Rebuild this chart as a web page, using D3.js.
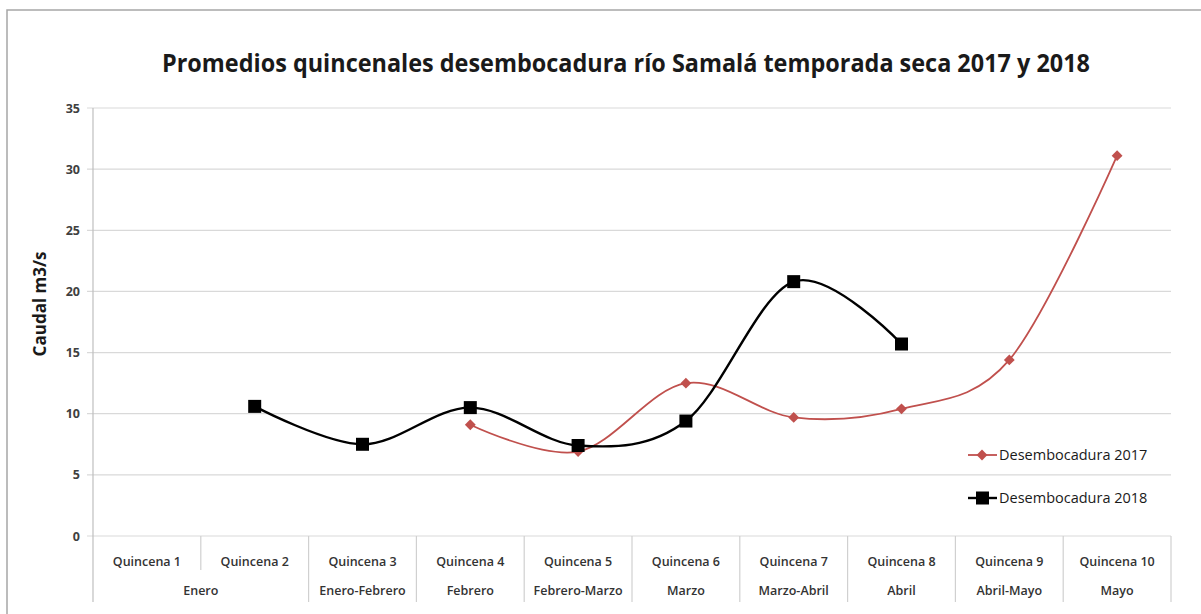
<!DOCTYPE html>
<html lang="es">
<head>
<meta charset="UTF-8">
<title>Promedios quincenales</title>
<script src="https://cdn.jsdelivr.net/npm/d3@7"></script>
<style>
    body { margin: 0; background: #fff; }
    svg text { font-family: "Open Sans", "Noto Sans", sans-serif; }
    .grid line { stroke: #d9d9d9; stroke-width: 1.2; }
    .ylab { font-size: 12.5px; font-weight: 700; fill: #404040; }
    .xlab { font-size: 12.5px; font-weight: 600; fill: #333; }
</style>
</head>
<body>
<svg width="1201" height="614"></svg>
<script>
// chart data
var quincenas = ["Quincena 1", "Quincena 2", "Quincena 3", "Quincena 4", "Quincena 5",
    "Quincena 6", "Quincena 7", "Quincena 8", "Quincena 9", "Quincena 10"];
// month groups: [label, first index, last index]
var meses = [["Enero", 0, 1], ["Enero-Febrero", 2, 2], ["Febrero", 3, 3], ["Febrero-Marzo", 4, 4],
    ["Marzo", 5, 5], ["Marzo-Abril", 6, 6], ["Abril", 7, 7], ["Abril-Mayo", 8, 8], ["Mayo", 9, 9]];
var desemb2017 = [null, null, null, 9.1, 6.9, 12.5, 9.7, 10.4, 14.4, 31.1];
var desemb2018 = [null, 10.6, 7.5, 10.5, 7.4, 9.4, 20.8, 15.7, null, null];
var yTicks = [0, 5, 10, 15, 20, 25, 30, 35];

var svg = d3.select("svg");
var plotLeft = 93, plotRight = 1171, plotTop = 108, plotBottom = 536, axisEnd = 602;

// outer frame
svg.append("rect")
    .attr("x", 7).attr("y", 10).attr("width", 1200).attr("height", 620)
    .attr("fill", "none").attr("stroke", "#a6a6a6").attr("stroke-width", 1.5);

svg.append("text")
    .attr("x", 626).attr("y", 72)
    .attr("text-anchor", "middle")
    .attr("textLength", 928).attr("lengthAdjust", "spacingAndGlyphs")
    .style("font-size", "25px").style("font-weight", 700).style("fill", "#1a1a1a")
    .text("Promedios quincenales desembocadura río Samalá temporada seca 2017 y 2018");

var x = d3.scaleBand().domain(d3.range(quincenas.length)).range([plotLeft, plotRight]);
var y = d3.scaleLinear().domain([0, 35]).range([plotBottom, plotTop]);

// gridlines
svg.append("g").attr("class", "grid")
    .selectAll("line").data(yTicks).enter().append("line")
    .attr("x1", plotLeft - 6).attr("x2", plotRight)
    .attr("y1", function (d) { return y(d); })
    .attr("y2", function (d) { return y(d); });

svg.append("g").selectAll("text").data(yTicks).enter().append("text")
    .attr("class", "ylab")
    .attr("x", plotLeft - 13).attr("y", function (d) { return y(d) + 4.5; })
    .attr("text-anchor", "end")
    .text(function (d) { return d; });

// y axis line
svg.append("line").attr("x1", plotLeft).attr("x2", plotLeft).attr("y1", plotTop).attr("y2", axisEnd)
    .attr("stroke", "#bfbfbf").attr("stroke-width", 1.2);

svg.append("text")
    .attr("transform", "translate(46,304) rotate(-90)")
    .attr("text-anchor", "middle")
    .style("font-size", "17px").style("font-weight", 700).style("fill", "#1a1a1a")
    .text("Caudal m3/s");

// category dividers
var bw = x.bandwidth();
svg.append("g").selectAll("line").data(d3.range(1, quincenas.length + 1)).enter().append("line")
    .attr("x1", function (i) { return plotLeft + i * bw; })
    .attr("x2", function (i) { return plotLeft + i * bw; })
    .attr("y1", plotBottom)
    .attr("y2", function (i) { return i === 1 ? 570 : axisEnd; })
    .attr("stroke", "#d0d0d0").attr("stroke-width", 1.2);

svg.append("g").selectAll("text").data(quincenas).enter().append("text")
    .attr("class", "xlab")
    .attr("x", function (d, i) { return x(i) + bw / 2; })
    .attr("y", 566)
    .attr("text-anchor", "middle")
    .text(function (d) { return d; });

svg.append("g").selectAll("text").data(meses).enter().append("text")
    .attr("class", "xlab")
    .attr("x", function (d) { return (x(d[1]) + x(d[2]) + bw) / 2; })
    .attr("y", 595)
    .attr("text-anchor", "middle")
    .text(function (d) { return d[0]; });

var line = d3.line()
    .defined(function (d) { return d != null; })
    .x(function (d, i) { return x(i) + bw / 2; })
    .y(function (d) { return y(d); })
    .curve(d3.curveCatmullRom.alpha(0));

var red = "#c0504d";

svg.append("path").datum(desemb2017)
    .attr("d", line).attr("fill", "none")
    .attr("stroke", red).attr("stroke-width", 1.8);

svg.append("path").datum(desemb2018)
    .attr("d", line).attr("fill", "none")
    .attr("stroke", "#000").attr("stroke-width", 2.4);

var diamond = d3.symbol().type(d3.symbolDiamond2).size(75);

svg.append("g").selectAll("path")
    .data(desemb2017.map(function (v, i) { return [v, i]; }).filter(function (d) { return d[0] != null; }))
    .enter().append("path")
    .attr("d", diamond)
    .attr("transform", function (d) { return "translate(" + (x(d[1]) + bw / 2) + "," + y(d[0]) + ")"; })
    .attr("fill", red);

svg.append("g").selectAll("rect")
    .data(desemb2018.map(function (v, i) { return [v, i]; }).filter(function (d) { return d[0] != null; }))
    .enter().append("rect")
    .attr("x", function (d) { return x(d[1]) + bw / 2 - 6.5; })
    .attr("y", function (d) { return y(d[0]) - 6.5; })
    .attr("width", 13).attr("height", 13)
    .attr("fill", "#000");

// legend
var legend = [["Desembocadura 2017", red, 455], ["Desembocadura 2018", "#000", 498]];
legend.forEach(function (l, k) {
    svg.append("line").attr("x1", 968).attr("x2", 997).attr("y1", l[2]).attr("y2", l[2])
        .attr("stroke", l[1]).attr("stroke-width", k === 0 ? 1.8 : 2.4);
    if (k === 0) {
        svg.append("path").attr("d", diamond).attr("fill", red)
            .attr("transform", "translate(982," + l[2] + ")");
    } else {
        svg.append("rect").attr("x", 976).attr("y", l[2] - 6.5).attr("width", 13).attr("height", 13).attr("fill", "#000");
    }
    svg.append("text").attr("x", 999).attr("y", l[2] + 5)
        .style("font-size", "14.5px").style("fill", "#1a1a1a")
        .text(l[0]);
});
</script>
</body>
</html>
